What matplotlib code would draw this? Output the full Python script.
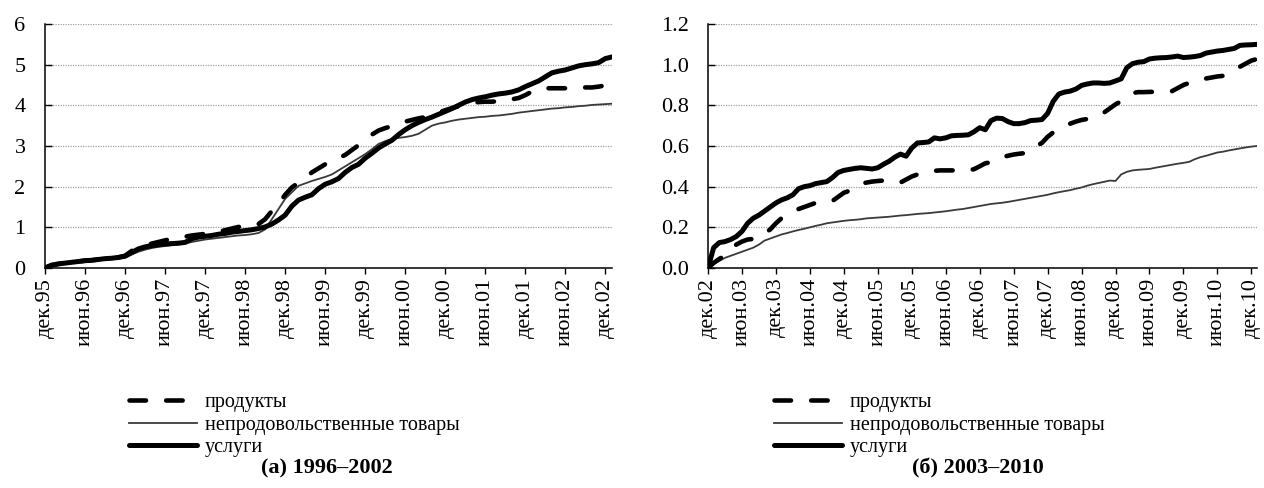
import numpy as np
import matplotlib
matplotlib.use("Agg")
import matplotlib.pyplot as plt

plt.rcParams['font.family'] = ['Liberation Serif', 'DejaVu Serif']
FS = 16
LEG_FS = 14.5
plt.rcParams['font.size'] = FS

# --- данные (накопленный рост, месячные точки) ---
# панель (а): дек.95 ... янв.03
left_products = [
    0, 0.07, 0.10, 0.12, 0.14, 0.16, 0.18, 0.19, 0.21, 0.23, 0.24, 0.26,
    0.30, 0.42, 0.50, 0.55, 0.60, 0.64, 0.68, 0.72, 0.74, 0.77, 0.80, 0.82,
    0.84, 0.86, 0.89, 0.93, 0.97, 1.01, 1.03, 1.04, 1.08, 1.20, 1.40, 1.58,
    1.80, 1.98, 2.10, 2.22, 2.35, 2.45, 2.55, 2.62, 2.70, 2.78, 2.90, 3.02,
    3.15, 3.28, 3.38, 3.44, 3.49, 3.55, 3.60, 3.64, 3.68, 3.71, 3.76, 3.82,
    3.88, 3.93, 3.98, 4.03, 4.06, 4.08, 4.09, 4.09, 4.10, 4.12, 4.15, 4.18,
    4.25, 4.34, 4.40, 4.42, 4.42, 4.42, 4.42, 4.43, 4.43, 4.44, 4.44, 4.46,
    4.49, 4.51]
left_nonfood = [
    0, 0.06, 0.09, 0.11, 0.13, 0.15, 0.16, 0.18, 0.19, 0.21, 0.22, 0.24,
    0.26, 0.33, 0.40, 0.45, 0.49, 0.52, 0.54, 0.56, 0.58, 0.60, 0.64, 0.67,
    0.70, 0.72, 0.74, 0.76, 0.78, 0.80, 0.81, 0.83, 0.86, 0.95, 1.20, 1.45,
    1.70, 1.86, 2.02, 2.08, 2.14, 2.19, 2.24, 2.30, 2.40, 2.50, 2.60, 2.70,
    2.80, 2.92, 3.05, 3.12, 3.17, 3.20, 3.22, 3.25, 3.30, 3.40, 3.50, 3.55,
    3.58, 3.62, 3.65, 3.67, 3.69, 3.71, 3.72, 3.74, 3.75, 3.77, 3.79, 3.82,
    3.84, 3.86, 3.88, 3.90, 3.92, 3.93, 3.95, 3.96, 3.98, 3.99, 4.01, 4.02,
    4.03, 4.04]
left_services = [
    0, 0.07, 0.10, 0.12, 0.14, 0.16, 0.18, 0.19, 0.21, 0.23, 0.24, 0.26,
    0.29, 0.38, 0.47, 0.52, 0.55, 0.57, 0.59, 0.60, 0.61, 0.63, 0.72, 0.76,
    0.78, 0.80, 0.83, 0.85, 0.88, 0.90, 0.92, 0.94, 0.97, 1.01, 1.08, 1.18,
    1.30, 1.52, 1.67, 1.74, 1.80, 1.95, 2.06, 2.12, 2.20, 2.35, 2.47, 2.55,
    2.70, 2.82, 2.95, 3.05, 3.14, 3.28, 3.40, 3.50, 3.58, 3.65, 3.71, 3.78,
    3.85, 3.92, 4.00, 4.08, 4.14, 4.18, 4.21, 4.25, 4.28, 4.30, 4.33, 4.38,
    4.46, 4.53, 4.60, 4.70, 4.80, 4.84, 4.87, 4.92, 4.97, 5.00, 5.02, 5.05,
    5.15, 5.19]
left_ticklabels = ['дек.95', 'июн.96', 'дек.96', 'июн.97', 'дек.97', 'июн.98',
                   'дек.98', 'июн.99', 'дек.99', 'июн.00', 'дек.00', 'июн.01',
                   'дек.01', 'июн.02', 'дек.02']

# панель (б): дек.02 ... янв.11
right_products = [
    0, 0.025, 0.045, 0.06, 0.09, 0.115, 0.13, 0.14, 0.143, 0.15, 0.17, 0.19,
    0.22, 0.245, 0.26, 0.275, 0.29, 0.30, 0.31, 0.32, 0.325, 0.33, 0.33, 0.35,
    0.37, 0.38, 0.40, 0.415, 0.42, 0.425, 0.428, 0.43, 0.43, 0.425, 0.42, 0.435,
    0.45, 0.46, 0.465, 0.47, 0.478, 0.48, 0.48, 0.48, 0.48, 0.48, 0.48, 0.486,
    0.50, 0.515, 0.52, 0.53, 0.545, 0.552, 0.558, 0.562, 0.565, 0.575, 0.60, 0.615,
    0.645, 0.667, 0.685, 0.70, 0.71, 0.72, 0.728, 0.733, 0.74, 0.75, 0.765, 0.785,
    0.805, 0.82, 0.84, 0.86, 0.865, 0.865, 0.866, 0.867, 0.867, 0.868, 0.87, 0.885,
    0.90, 0.91, 0.92, 0.928, 0.932, 0.937, 0.942, 0.945, 0.955, 0.97, 0.99, 1.005,
    1.02, 1.028]
right_nonfood = [
    0, 0.02, 0.035, 0.05, 0.06, 0.07, 0.08, 0.09, 0.10, 0.115, 0.135, 0.145,
    0.155, 0.165, 0.172, 0.18, 0.187, 0.193, 0.20, 0.207, 0.213, 0.22, 0.224, 0.228,
    0.232, 0.235, 0.237, 0.24, 0.244, 0.246, 0.248, 0.25, 0.252, 0.255, 0.258, 0.26,
    0.263, 0.266, 0.268, 0.27, 0.273, 0.276, 0.279, 0.283, 0.287, 0.29, 0.295, 0.30,
    0.305, 0.31, 0.315, 0.318, 0.321, 0.325, 0.33, 0.335, 0.34, 0.345, 0.35, 0.355,
    0.36, 0.367, 0.373, 0.378, 0.383, 0.39, 0.396, 0.405, 0.412, 0.418, 0.424, 0.43,
    0.428, 0.46, 0.473, 0.48, 0.483, 0.485, 0.487, 0.493, 0.498, 0.503, 0.508, 0.513,
    0.517, 0.522, 0.535, 0.545, 0.552, 0.56, 0.568, 0.572, 0.578, 0.583, 0.588, 0.593,
    0.597, 0.60]
right_services = [
    0, 0.10, 0.125, 0.13, 0.14, 0.155, 0.18, 0.22, 0.245, 0.26, 0.28, 0.30,
    0.32, 0.335, 0.345, 0.36, 0.39, 0.40, 0.405, 0.415, 0.42, 0.425, 0.445, 0.47,
    0.48, 0.485, 0.49, 0.493, 0.49, 0.487, 0.493, 0.51, 0.525, 0.545, 0.56, 0.55,
    0.59, 0.615, 0.617, 0.62, 0.64, 0.635, 0.64, 0.65, 0.652, 0.653, 0.655, 0.67,
    0.69, 0.68, 0.725, 0.737, 0.735, 0.72, 0.71, 0.71, 0.715, 0.725, 0.727, 0.73,
    0.76, 0.82, 0.856, 0.865, 0.87, 0.88, 0.898, 0.905, 0.91, 0.91, 0.908, 0.91,
    0.92, 0.93, 0.985, 1.005, 1.012, 1.015, 1.028, 1.032, 1.034, 1.035, 1.038, 1.042,
    1.035, 1.037, 1.04, 1.045, 1.057, 1.062, 1.067, 1.07, 1.075, 1.08, 1.095, 1.097,
    1.098, 1.10]
right_ticklabels = ['дек.02', 'июн.03', 'дек.03', 'июн.04', 'дек.04', 'июн.05',
                    'дек.05', 'июн.06', 'дек.06', 'июн.07', 'дек.07', 'июн.08',
                    'дек.08', 'июн.09', 'дек.09', 'июн.10', 'дек.10']

series_names = ['продукты', 'непродовольственные товары', 'услуги']

fig = plt.figure(figsize=(12.64, 4.88), dpi=100)
ax1 = fig.add_axes([45 / 1264, 220 / 488, 567 / 1264, 244 / 488])
ax2 = fig.add_axes([708 / 1264, 220 / 488, 549 / 1264, 244 / 488])


def draw_panel(ax, products, nonfood, services, ticklabels, ymax, ystep, fmt):
    x = np.arange(len(products))
    ax.plot(x, nonfood, color='#3a3a3a', lw=1.3, label=series_names[1], zorder=3)
    ax.plot(x, services, color='black', lw=3.6, solid_capstyle='round',
            solid_joinstyle='round', label=series_names[2], zorder=4)
    ax.plot(x, products, color='black', lw=3.3, dashes=(3.6, 4.4),
            dash_capstyle='round', label=series_names[0], zorder=5)
    ax.set_xlim(0, len(products) - 1)
    ax.set_ylim(0, ymax)
    ax.set_xticks(np.arange(0, 6 * len(ticklabels), 6))
    ax.set_xticklabels(ticklabels, rotation=90)
    yt = np.arange(0, ymax + ystep / 2, ystep)
    ax.set_yticks(yt)
    ax.set_yticklabels([fmt.format(v) for v in yt])
    ax.yaxis.grid(True, color='#a0a0a0', linestyle=(0, (1, 1)), lw=0.9)
    ax.set_axisbelow(True)
    for s in ['top', 'right']:
        ax.spines[s].set_visible(False)
    for s in ['left', 'bottom']:
        ax.spines[s].set_linewidth(1.1)
    ax.tick_params(axis='x', direction='out', length=4, width=1, pad=3)
    ax.tick_params(axis='y', direction='in', length=5, width=1, pad=14)
    ax.tick_params(labelsize=FS)


draw_panel(ax1, left_products, left_nonfood, left_services, left_ticklabels,
           6, 1, '{:.0f}')
draw_panel(ax2, right_products, right_nonfood, right_services, right_ticklabels,
           1.2, 0.2, '{:.1f}')

for ax, x0 in [(ax1, 129), (ax2, 774)]:
    h, l = ax.get_legend_handles_labels()
    order = [2, 0, 1]
    ax.legend([h[i] for i in order], [l[i] for i in order],
              loc='upper left', bbox_to_anchor=(x0 / 1264, 1 - 393 / 488),
              bbox_transform=fig.transFigure, frameon=False, borderpad=0,
              borderaxespad=0, handlelength=3.4, handletextpad=0.35,
              labelspacing=0.17, fontsize=LEG_FS)

fig.text(327 / 1264, 1 - 468 / 488, '(а) 1996–2002', ha='center', va='center',
         fontweight='bold', fontsize=FS)
fig.text(978 / 1264, 1 - 468 / 488, '(б) 2003–2010', ha='center', va='center',
         fontweight='bold', fontsize=FS)

fig.savefig('out.png', dpi=100)
